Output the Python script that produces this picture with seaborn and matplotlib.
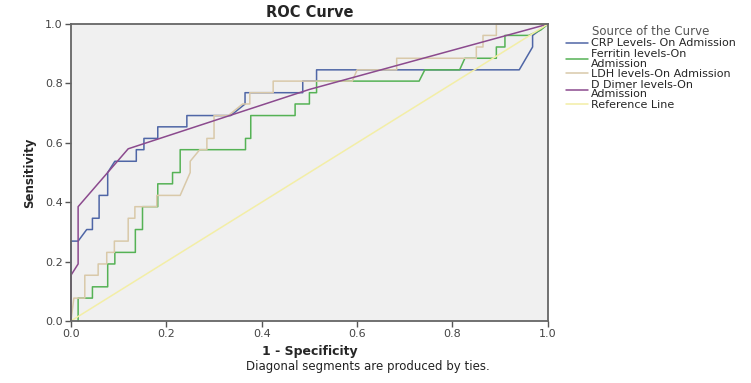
import numpy as np
import pandas as pd
import matplotlib
matplotlib.use("Agg")
import matplotlib.pyplot as plt
import seaborn as sns

# ROC curve points (1 - specificity, sensitivity)
crp_x = [0, 0, 0.015, 0.033, 0.045, 0.045, 0.059, 0.059, 0.077, 0.077, 0.092, 0.137, 0.137,
         0.153, 0.153, 0.182, 0.182, 0.243, 0.243, 0.335, 0.365, 0.365, 0.486, 0.486, 0.515,
         0.515, 0.94, 0.968, 0.968, 1.0]
crp_y = [0, 0.269, 0.269, 0.308, 0.308, 0.346, 0.346, 0.423, 0.423, 0.5, 0.538, 0.538, 0.577,
         0.577, 0.615, 0.615, 0.654, 0.654, 0.692, 0.692, 0.731, 0.769, 0.769, 0.808, 0.808,
         0.846, 0.846, 0.923, 0.962, 1.0]

ferritin_x = [0.015, 0.015, 0.045, 0.045, 0.077, 0.077, 0.092, 0.092, 0.135, 0.135, 0.15, 0.15,
              0.182, 0.182, 0.213, 0.213, 0.229, 0.229, 0.366, 0.366, 0.377, 0.377, 0.47, 0.47,
              0.5, 0.5, 0.515, 0.515, 0.73, 0.742, 0.815, 0.826, 0.892, 0.892, 0.91, 0.91,
              0.96, 0.985, 1.0]
ferritin_y = [0, 0.077, 0.077, 0.115, 0.115, 0.192, 0.192, 0.231, 0.231, 0.308, 0.308, 0.385,
              0.385, 0.462, 0.462, 0.5, 0.5, 0.577, 0.577, 0.615, 0.615, 0.692, 0.692, 0.731,
              0.731, 0.769, 0.769, 0.808, 0.808, 0.846, 0.846, 0.885, 0.885, 0.923, 0.923, 0.962,
              0.962, 0.98, 1.0]

ldh_x = [0, 0.006, 0.029, 0.029, 0.057, 0.057, 0.075, 0.075, 0.091, 0.091, 0.12, 0.12, 0.134,
         0.134, 0.18, 0.18, 0.229, 0.25, 0.25, 0.27, 0.285, 0.285, 0.3, 0.3, 0.33, 0.36, 0.375,
         0.375, 0.424, 0.424, 0.59, 0.6, 0.683, 0.683, 0.85, 0.85, 0.864, 0.864, 0.892, 0.892, 1.0]
ldh_y = [0, 0.077, 0.077, 0.154, 0.154, 0.192, 0.192, 0.231, 0.231, 0.269, 0.269, 0.346, 0.346,
         0.385, 0.385, 0.423, 0.423, 0.5, 0.538, 0.577, 0.577, 0.615, 0.615, 0.692, 0.692, 0.731,
         0.731, 0.769, 0.769, 0.808, 0.808, 0.846, 0.846, 0.885, 0.885, 0.923, 0.923, 0.962,
         0.962, 1.0, 1.0]

ddimer_x = [0, 0, 0.015, 0.015, 0.12, 0.5, 1.0]
ddimer_y = [0, 0.154, 0.192, 0.385, 0.58, 0.78, 1.0]

ref_x = [0, 1]
ref_y = [0, 1]

labels = ["CRP Levels- On Admission", "Ferritin levels-On\nAdmission",
          "LDH levels-On Admission", "D Dimer levels-On\nAdmission", "Reference Line"]
colors = ["#4f66a6", "#55b255", "#d9c9a9", "#8b4a8e", "#f3eea6"]

frames = []
for lab, xs, ys in zip(labels, [crp_x, ferritin_x, ldh_x, ddimer_x, ref_x],
                       [crp_y, ferritin_y, ldh_y, ddimer_y, ref_y]):
    frames.append(pd.DataFrame({"fpr": xs, "tpr": ys, "curve": lab}))
df = pd.concat(frames, ignore_index=True)

sns.set_style("white")
plt.rcParams['font.family'] = ['DejaVu Sans']

fig = plt.figure(figsize=(7.51, 3.83), dpi=100)
ax = fig.add_axes([0.0945, 0.162, 0.635, 0.775])
ax.set_facecolor("#f0f0f0")

sns.lineplot(data=df, x="fpr", y="tpr", hue="curve", hue_order=labels,
             palette=dict(zip(labels, colors)), sort=False, estimator=None,
             linewidth=1.1, legend=False, ax=ax)
for ln in ax.get_lines():
    ln.set_clip_on(False)

ax.set_xlim(0, 1)
ax.set_ylim(0, 1)
ticks = [0, 0.2, 0.4, 0.6, 0.8, 1.0]
ax.set_xticks(ticks)
ax.set_yticks(ticks)
ax.set_xticklabels([f"{t:.1f}" for t in ticks])
ax.set_yticklabels([f"{t:.1f}" for t in ticks])
ax.tick_params(direction="out", length=4, width=1, color="#555555",
               labelsize=8, labelcolor="#444444", pad=2, bottom=True, left=True)
for sp in ax.spines.values():
    sp.set_color("#666666")
    sp.set_linewidth(1.3)

ax.set_title("ROC Curve", fontsize=10.5, fontweight="bold", pad=5)
ax.set_xlabel("1 - Specificity", fontsize=9, fontweight="bold", labelpad=4)
ax.set_ylabel("Sensitivity", fontsize=8.5, fontweight="bold", labelpad=6)

fig.text(0.49, 0.044, "Diagonal segments are produced by ties.", ha="center", va="center",
         fontsize=8.5, color="#222222")

handles = ax.get_lines()[:len(labels)]
leg = fig.legend(handles, labels, title="Source of the Curve", loc="upper left",
                 bbox_to_anchor=(0.753, 0.935), frameon=False, fontsize=8,
                 title_fontsize=8.5, handlelength=2.0, labelspacing=0.05,
                 handletextpad=0.3, borderaxespad=0, borderpad=0)
leg.get_title().set_color("#555555")
for t in leg.get_texts():
    t.set_linespacing(0.95)

fig.savefig("out.png", dpi=100)
